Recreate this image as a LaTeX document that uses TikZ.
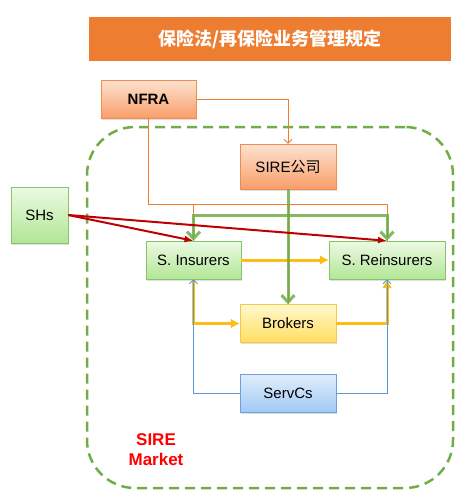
\documentclass[tikz,border=0pt]{standalone}
\usepackage{fontspec}
\setmainfont{Liberation Sans}
\newfontfamily\cjk{Noto Sans CJK SC}
\usepackage{xcolor}
\usepackage{tikz}
\usetikzlibrary{positioning,shadows,arrows.meta}

\definecolor{orgLine}{RGB}{240,140,80}
\definecolor{orgTop}{RGB}{253,226,208}
\definecolor{orgBot}{RGB}{248,158,105}
\definecolor{grnLine}{RGB}{135,196,105}
\definecolor{grnTop}{RGB}{236,250,228}
\definecolor{grnBot}{RGB}{178,230,150}
\definecolor{ylwLine}{RGB}{245,200,70}
\definecolor{ylwTop}{RGB}{255,248,205}
\definecolor{ylwBot}{RGB}{255,222,95}
\definecolor{bluLine}{RGB}{110,160,220}
\definecolor{bluTop}{RGB}{226,238,252}
\definecolor{bluBot}{RGB}{160,202,245}
\definecolor{orgEdgeC}{RGB}{237,125,49}
\definecolor{grnEdgeC}{RGB}{112,173,71}
\definecolor{redEdgeC}{RGB}{192,0,0}
\definecolor{ylwEdgeC}{RGB}{250,190,20}
\definecolor{bluEdgeC}{RGB}{91,155,213}

\begin{document}
\begin{tikzpicture}[>=latex, x=1pt, y=-1pt]
        \tikzstyle{state} = [draw, rectangle, inner sep=0pt, 
            minimum height=38pt, minimum width=96pt,
            font=\fontsize{15}{18}\selectfont,
            drop shadow={opacity=0.25, shadow xshift=1pt, shadow yshift=-1.5pt}]
        \tikzstyle{orgState} = [state, draw=orgLine, top color=orgTop, bottom color=orgBot]
        \tikzstyle{grnState} = [state, draw=grnLine, top color=grnTop, bottom color=grnBot]
        \tikzstyle{ylwState} = [state, draw=ylwLine, top color=ylwTop, bottom color=ylwBot]
        \tikzstyle{bluState} = [state, draw=bluLine, top color=bluTop, bottom color=bluBot]
        \tikzstyle{banner} = [rectangle, fill=orgEdgeC, draw=white, line width=3pt,
            minimum width=365pt, minimum height=47pt, text=white,
            font=\fontsize{18}{20}\selectfont\cjk\bfseries,
            drop shadow={opacity=0.3, shadow xshift=1pt, shadow yshift=-1.5pt}]
        \tikzstyle{market} = [draw=grnEdgeC, line width=2.5pt, rounded corners=48pt,
            dash pattern=on 10pt off 6pt, minimum width=366pt, minimum height=361pt]
        \tikzstyle{marketLabel} = [text=red, align=center,
            font=\fontsize{17}{20}\selectfont\bfseries]
        \tikzstyle{orgEdge} = [orgEdgeC, line width=0.9pt];
        \tikzstyle{grnEdge} = [grnEdgeC, draw opacity=0.85, line width=3pt,
            -{Straight Barb[length=7pt, width=13pt]}];
        \tikzstyle{redEdge} = [redEdgeC, line width=2pt, -{Latex[length=9pt, width=7pt]}];
        \tikzstyle{ylwEdge} = [ylwEdgeC, line width=3pt, -{Latex[length=9pt, width=10pt]}];
        \tikzstyle{bluEdge} = [bluEdgeC, line width=0.8pt, -{Straight Barb[length=4pt, width=8pt]}];

        \useasboundingbox (0,0) rectangle (467,501);

        \node[market] (nodeMkt) at (270,307.5) {};
        \node[banner] (nodeTitle) at (270,39) {保险法/再保险业务管理规定};
        \node[orgState, minimum width=95pt, font=\fontsize{15}{18}\selectfont\bfseries] 
            (nodeNFRA) at (148.5,99) {NFRA};
        \node[orgState, minimum height=45pt] (nodeSIRE) at (288,166.5) {SIRE{\cjk 公司}};
        \node[grnState, minimum width=57pt, minimum height=56pt] (nodeSH) at (39.5,215) {SHs};
        \node[grnState, minimum width=95pt] (nodeIns) at (193.5,260) {S. Insurers};
        \node[grnState, minimum width=116pt, right of=nodeIns, 
            node distance=193.5pt] (nodeRe) {S. Reinsurers};
        \node[ylwState, below of=nodeSIRE, node distance=157pt] (nodeBrk) {Brokers};
        \node[bluState, below of=nodeBrk, node distance=69.5pt] (nodeSrv) {ServCs};
        \node[marketLabel] (nodeMktLabel) at (156,450) {SIRE\\Market};

        \coordinate (jOrg) at (148.5,204);
        \coordinate (jGrn) at (288,215);

        % NFRA
        \draw[orgEdge, -{Straight Barb[length=4pt, width=8pt]}] 
            (nodeNFRA.east) -| (nodeSIRE.north);
        \draw[orgEdge] (nodeNFRA.south) |- (nodeRe.north |- jOrg) -- (nodeRe.north);
        \draw[orgEdge] (nodeIns.north |- jOrg) -- (nodeIns.north);
        \draw[orgEdge] (nodeBrk.north |- jOrg) -- (nodeBrk.north);

        % Brokers
        \draw[ylwEdge] (nodeIns.east) -- (nodeRe.west);
        \draw[ylwEdge] (nodeIns.south) |- (nodeBrk.west);
        \draw[ylwEdge] (nodeBrk.east) -| (nodeRe.south);

        % ServCs
        \draw[bluEdge] (nodeSrv.west) -| (nodeIns.south);
        \draw[bluEdge] (nodeSrv.east) -| (nodeRe.south);

        % SIRE
        \draw[grnEdge] (nodeSIRE.south) -- (nodeBrk.north);
        \draw[grnEdge, {Straight Barb[length=7pt, width=13pt]}-{Straight Barb[length=7pt, width=13pt]}] 
            (nodeIns.north) |- (jGrn) -| (nodeRe.north);

        % SHs
        \draw[redEdge] (nodeSH.east) -- (nodeIns.north);
        \draw[redEdge] (nodeSH.east) -- (nodeRe.north);
    \end{tikzpicture}
\end{document}
